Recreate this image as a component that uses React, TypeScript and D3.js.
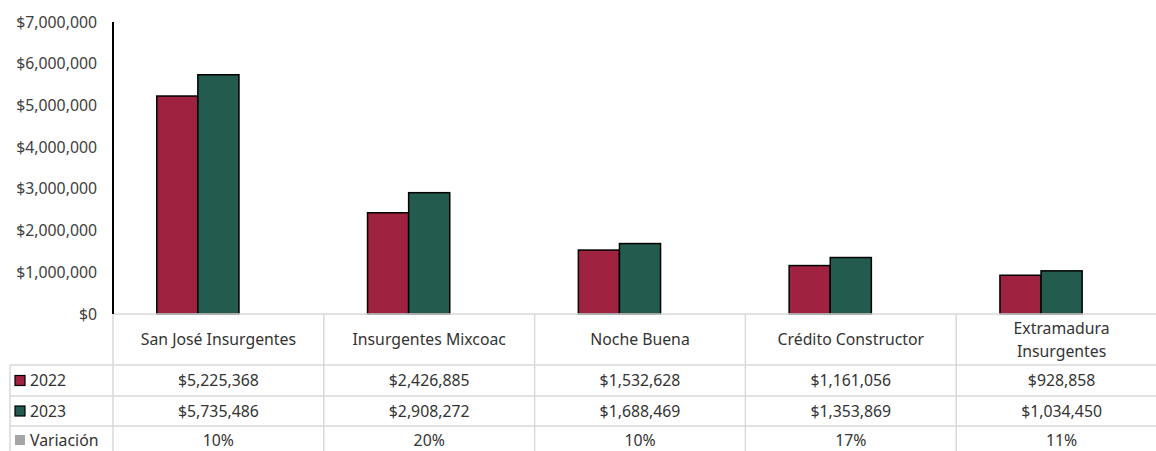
import { useEffect, useRef } from "react"
import * as d3 from "d3"

const categories = ["San José Insurgentes", "Insurgentes Mixcoac", "Noche Buena", "Crédito Constructor", "Extramadura Insurgentes"]
const headerLines = [["San José Insurgentes"], ["Insurgentes Mixcoac"], ["Noche Buena"], ["Crédito Constructor"], ["Extramadura", "Insurgentes"]]
const seriesNames = ["2022", "2023", "Variación"]
const values2022 = [5225368, 2426885, 1532628, 1161056, 928858]
const values2023 = [5735486, 2908272, 1688469, 1353869, 1034450]
const variacion = [0.1, 0.2, 0.1, 0.17, 0.11]
const yTicks = [0, 1000000, 2000000, 3000000, 4000000, 5000000, 6000000, 7000000]

const colors = ["#9f2241", "#235b4e", "#a6a6a6"]
const font = "'Noto Sans', sans-serif"
const fontSize = "15.8px"

export default function App() {
  const svgRef = useRef<SVGSVGElement>(null)

  useEffect(() => {
    if (!svgRef.current) return
    const svg = d3.select(svgRef.current)
    svg.selectAll("*").remove()

    const left = 113
    const right = 1167
    const top = 22
    const base = 314
    const rowLines = [365, 396, 426]

    const y = d3.scaleLinear().domain([0, 7000000]).range([base, top])
    const x = d3.scaleBand().domain(categories).range([left, right]).padding(0)
    const groupW = x.bandwidth() * 0.585
    const xs = d3.scaleBand().domain(seriesNames).range([0, groupW]).padding(0)

    const series = [values2022, values2023, variacion]
    const fmt = d3.format("$,")

    // y axis labels
    svg.append("g")
      .selectAll("text")
      .data(yTicks)
      .enter()
      .append("text")
      .attr("x", 97)
      .attr("y", (d) => y(d))
      .attr("dy", "0.35em")
      .attr("text-anchor", "end")
      .attr("font-family", font)
      .attr("font-size", fontSize)
      .attr("fill", "#404040")
      .text((d) => fmt(d))

    // bars (Variación is a percentage, so it sits at the baseline unseen)
    series.forEach((vals, si) => {
      if (si === 2) return
      svg.append("g")
        .selectAll("rect")
        .data(vals)
        .enter()
        .append("rect")
        .attr("x", (_, i) => (x(categories[i]) || 0) + (x.bandwidth() - groupW) / 2 + (xs(seriesNames[si]) || 0))
        .attr("y", (d) => y(d))
        .attr("width", xs.bandwidth())
        .attr("height", (d) => base - y(d))
        .attr("fill", colors[si])
        .attr("stroke", "#000")
        .attr("stroke-width", 1.5)
    })

    // table grid
    const grid = svg.append("g").attr("stroke", "#d9d9d9").attr("stroke-width", 1.5)
    grid.append("line").attr("x1", left).attr("x2", right).attr("y1", base).attr("y2", base)
    rowLines.forEach((ry) => {
      grid.append("line").attr("x1", 10).attr("x2", right).attr("y1", ry).attr("y2", ry)
    })
    grid.append("line").attr("x1", 10).attr("x2", 10).attr("y1", rowLines[0]).attr("y2", 451)
    categories.forEach((c) => {
      const gx = x(c) || 0
      grid.append("line").attr("x1", gx).attr("x2", gx).attr("y1", base).attr("y2", 451)
    })

    // y axis line
    svg.append("line")
      .attr("x1", left).attr("x2", left)
      .attr("y1", top).attr("y2", base)
      .attr("stroke", "#000").attr("stroke-width", 2)

    const textAttrs = (sel: any) =>
      sel.attr("font-family", font).attr("font-size", fontSize).attr("fill", "#333").attr("text-anchor", "middle")

    // header row
    headerLines.forEach((lines, i) => {
      const cx = (x(categories[i]) || 0) + x.bandwidth() / 2
      const midY = (base + rowLines[0]) / 2
      lines.forEach((ln, li) => {
        svg.append("text")
          .call(textAttrs)
          .attr("x", cx)
          .attr("y", midY + (li - (lines.length - 1) / 2) * 23)
          .attr("dy", "0.35em")
          .text(ln)
      })
    })

    // data rows
    const rowCenters = [(rowLines[0] + rowLines[1]) / 2, (rowLines[1] + rowLines[2]) / 2, 440]
    series.forEach((vals, si) => {
      vals.forEach((v, i) => {
        svg.append("text")
          .call(textAttrs)
          .attr("x", (x(categories[i]) || 0) + x.bandwidth() / 2)
          .attr("y", rowCenters[si])
          .attr("dy", "0.35em")
          .text(si === 2 ? d3.format(".0%")(v) : fmt(v))
      })
      // legend key
      svg.append("rect")
        .attr("x", 15)
        .attr("y", rowCenters[si] - 5)
        .attr("width", 10)
        .attr("height", 10)
        .attr("fill", colors[si])
        .attr("stroke", si === 2 ? "none" : "#000")
        .attr("stroke-width", 1.2)
      svg.append("text")
        .attr("x", 30)
        .attr("y", rowCenters[si])
        .attr("dy", "0.35em")
        .attr("font-family", font)
        .attr("font-size", fontSize)
        .attr("fill", "#333")
        .text(seriesNames[si])
    })
  }, [])

  return <svg ref={svgRef} width={1156} height={451} style={{ position: "absolute", left: 0, top: 0, background: "#fff" }} />
}
